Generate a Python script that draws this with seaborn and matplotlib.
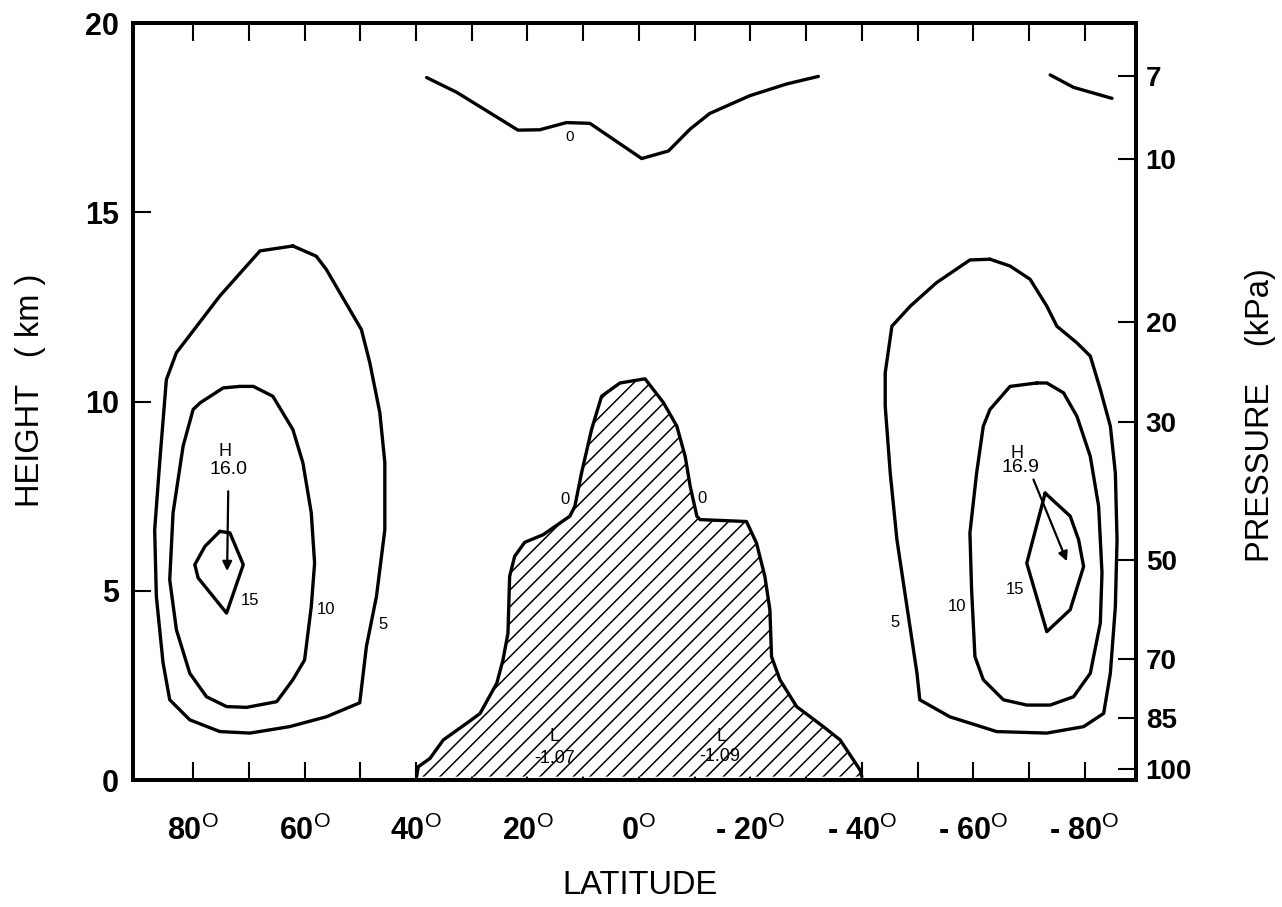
import matplotlib
matplotlib.use('Agg')
import matplotlib.pyplot as plt
import pandas as pd
import seaborn as sns

# ---------------- data (latitude in degrees, height in km) ----------------
# northern hemisphere maximum, 5 contour
n5_lat = [62.1, 68.0, 75.2, 83.0, 84.8, 86.0, 86.9, 86.6, 85.4, 84.2, 80.6, 75.2, 69.8,
          62.7, 56.1, 50.1, 48.9, 47.1, 45.6, 45.6, 46.5, 48.3, 49.8, 56.1, 57.9]
n5_h = [14.11, 13.98, 12.79, 11.29, 10.58, 8.39, 6.61, 4.85, 3.10, 2.12, 1.59, 1.28, 1.24,
        1.41, 1.67, 2.04, 3.53, 4.85, 6.61, 8.39, 9.71, 11.03, 11.90, 13.49, 13.84]
# 10 contour
n10_lat = [71.6, 74.6, 78.7, 80.0, 81.8, 83.6, 84.2, 83.0, 80.6, 77.6, 74.0, 70.4, 65.0,
           62.1, 60.0, 58.8, 58.2, 58.8, 60.3, 62.1, 65.7, 69.2]
n10_h = [10.40, 10.36, 9.97, 9.79, 8.82, 7.06, 5.29, 3.97, 2.82, 2.20, 1.94, 1.92, 2.07,
         2.65, 3.17, 4.58, 5.73, 7.06, 8.38, 9.26, 10.14, 10.40]
# 15 contour
n15_lat = [75.2, 73.4, 71.0, 74.0, 79.1, 79.7, 77.9]
n15_h = [6.57, 6.53, 5.69, 4.41, 5.34, 5.69, 6.17]

# southern hemisphere maximum, 5 contour
s5_lat = [-63.0, -59.4, -53.4, -48.7, -45.4, -44.2, -44.2, -45.1, -46.3, -48.1, -49.9, -50.4,
          -55.8, -64.2, -73.2, -79.8, -83.4, -84.6, -85.5, -85.8, -85.5, -84.6, -82.8, -81.0,
          -78.6, -75.0, -73.2, -70.2, -66.6]
s5_h = [13.76, 13.74, 13.14, 12.52, 11.99, 10.76, 9.88, 8.11, 6.35, 4.58, 2.82, 2.12,
        1.67, 1.28, 1.24, 1.41, 1.76, 2.82, 4.58, 6.35, 8.11, 9.35, 10.32, 11.20,
        11.55, 11.99, 12.52, 13.23, 13.58]
# 10 contour
s10_lat = [-71.4, -66.6, -63.0, -61.8, -60.6, -59.4, -59.7, -60.3, -61.8, -65.4, -69.6, -73.8,
           -78.0, -81.0, -82.8, -83.1, -82.5, -81.0, -78.6, -76.2, -73.2]
s10_h = [10.49, 10.40, 9.79, 9.35, 8.11, 6.53, 5.03, 3.26, 2.65, 2.12, 1.98, 1.98,
         2.20, 2.82, 4.15, 5.47, 7.23, 8.55, 9.61, 10.23, 10.49]
# 15 contour
s15_lat = [-72.9, -77.4, -78.9, -79.8, -77.4, -73.2, -69.6]
s15_h = [7.58, 6.97, 6.35, 5.64, 4.50, 3.92, 5.73]

# upper 0 contour (tropical tropopause) and its southern fragment
top0_lat = [38.1, 32.7, 21.7, 17.8, 13.0, 8.8, -0.5, -5.3, -9.2, -12.7, -19.9, -26.5, -32.2]
top0_h = [18.56, 18.17, 17.17, 17.18, 17.37, 17.35, 16.42, 16.62, 17.20, 17.61, 18.08, 18.39, 18.59]
frag0_lat = [-73.8, -78.0, -84.9]
frag0_h = [18.63, 18.30, 18.01]

# hatched negative region (0 contour)
neg_lat = [39.9, 39.6, 37.5, 35.1, 30.9, 28.5, 25.5, 24.4, 23.5, 23.2, 22.3, 20.5, 17.2,
           12.4, 11.5, 10.3, 8.5, 6.7, 3.4, -1.1, -4.4, -6.8, -8.3, -9.2, -10.4, -11.0,
           -19.3, -21.1, -22.6, -23.5, -23.8, -25.3, -28.3, -33.1, -36.1, -38.5, -39.7, -40.0]
neg_h = [0.09, 0.35, 0.57, 1.06, 1.50, 1.76, 2.56, 3.17, 3.88, 5.38, 5.91, 6.28, 6.48,
         6.97, 7.23, 8.11, 9.26, 10.14, 10.49, 10.60, 9.97, 9.35, 8.55, 7.76, 6.97, 6.88,
         6.83, 6.26, 5.38, 4.50, 3.26, 2.65, 1.94, 1.41, 1.06, 0.53, 0.26, 0.09]

# axis ticks
lat_major = [80, 60, 40, 20, 0, -20, -40, -60, -80]
lat_minor = [70, 50, 30, 10, -10, -30, -50, -70]
height_ticks = [0, 5, 10, 15, 20]
pressure_labels = ['7', '10', '20', '30', '50', '70', '85', '100']
pressure_heights = [18.6, 16.4, 12.1, 9.45, 5.8, 3.2, 1.65, 0.3]

# contour value labels: (lat, height, text, fontsize)
contour_labels = [
    (69.8, 4.75, '15', 12), (56.1, 4.5, '10', 12), (45.9, 4.1, '5', 12),
    (-67.5, 5.03, '15', 12), (-57.1, 4.58, '10', 12), (-46.0, 4.15, '5', 12),
    (12.4, 17.0, '0', 11), (13.3, 7.4, '0', 12), (-11.3, 7.45, '0', 12),
    (74.3, 8.69, 'H', 13), (73.7, 8.2, '16.0', 14),
    (-67.8, 8.64, 'H', 13), (-68.4, 8.25, '16.9', 14),
    (15.1, 1.15, 'L', 13), (15.1, 0.57, '-1.07', 13),
    (-14.8, 1.15, 'L', 13), (-14.5, 0.62, '-1.09', 13),
]
# arrows from the maximum labels to the maxima: (start lat, start h, end lat, end h)
arrows = [(73.7, 7.63, 73.9, 5.52), (-70.8, 7.94, -76.8, 5.78)]

# ---------------- style ----------------
sns.set_style('ticks')
plt.rcParams['font.family'] = ['Liberation Sans', 'DejaVu Sans']
plt.rcParams['mathtext.fontset'] = 'custom'
plt.rcParams['mathtext.rm'] = 'Liberation Sans'
plt.rcParams['mathtext.it'] = 'Liberation Sans'
plt.rcParams['mathtext.bf'] = 'Liberation Sans:bold'
plt.rcParams['hatch.linewidth'] = 1.1
plt.rcParams['hatch.color'] = 'black'
for key in ('text.color', 'axes.labelcolor', 'xtick.color', 'ytick.color', 'axes.edgecolor'):
    plt.rcParams[key] = 'black'

fig = plt.figure(figsize=(12.82, 9.07), dpi=100)
ax = fig.add_axes([0.1037, 0.140, 0.7824, 0.8346])

LW = 2.4


def draw(lat, h, closed=False):
    xs = list(lat) + ([lat[0]] if closed else [])
    ys = list(h) + ([h[0]] if closed else [])
    df = pd.DataFrame({'lat': xs, 'h': ys})
    sns.lineplot(data=df, x='lat', y='h', sort=False, estimator=None,
                 color='black', lw=LW, ax=ax, legend=False)


# hatched region
ax.fill(neg_lat, neg_h, facecolor='white', edgecolor='black', hatch='//', linewidth=0, zorder=1)

draw(n5_lat, n5_h, True)
draw(n10_lat, n10_h, True)
draw(n15_lat, n15_h, True)
draw(s5_lat, s5_h, True)
draw(s10_lat, s10_h, True)
draw(s15_lat, s15_h, True)
draw(top0_lat, top0_h)
draw(frag0_lat, frag0_h)
draw(neg_lat, neg_h)

for la, hh, txt, fs in contour_labels:
    ax.text(la, hh, txt, ha='center', va='center', fontsize=fs, color='black', zorder=5)

for la0, h0, la1, h1 in arrows:
    ax.annotate('', xy=(la1, h1), xytext=(la0, h0),
                arrowprops=dict(arrowstyle='-|>', lw=1.6, color='black',
                                mutation_scale=14, shrinkA=0, shrinkB=0))

ax.set_xlim(90.8, -89.2)
ax.set_ylim(0, 20)
ax.set_xlabel('')
ax.set_ylabel('')


def lat_label(v):
    if v < 0:
        return '- ' + str(abs(v)) + r'$^{\mathrm{O}}$'
    return str(v) + r'$^{\mathrm{O}}$'


ax.set_xticks(lat_major)
ax.set_xticklabels([lat_label(v) for v in lat_major], fontsize=22, fontweight='bold')
ax.set_xticks(lat_minor, minor=True)
ax.set_yticks(height_ticks)
ax.set_yticklabels([str(v) for v in height_ticks], fontsize=22, fontweight='bold')
ax.tick_params(axis='x', which='both', direction='in', length=13, width=1.5,
               top=True, bottom=True, pad=26)
ax.tick_params(axis='y', which='both', direction='in', length=13, width=1.5,
               left=True, right=False, pad=10)

ax2 = ax.twinx()
ax2.set_ylim(0, 20)
ax2.set_yticks(pressure_heights)
ax2.set_yticklabels(pressure_labels, fontsize=20, fontweight='bold')
ax2.tick_params(axis='y', direction='in', length=13, width=1.5, pad=7)

for a in (ax, ax2):
    for s in a.spines.values():
        s.set_linewidth(2.8)
        s.set_color('black')

fig.text(31 / 1282, 1 - 390 / 907, 'HEIGHT   ( km )', rotation=90, ha='center', va='center',
         fontsize=23.5)
fig.text(640 / 1282, 1 - 885 / 907, 'LATITUDE', ha='center', va='center', fontsize=23.5)
fig.text(1261 / 1282, 1 - 415 / 907, 'PRESSURE    (kPa)', rotation=90, ha='center', va='center',
         fontsize=23.5)

fig.savefig('out.png', dpi=100)
